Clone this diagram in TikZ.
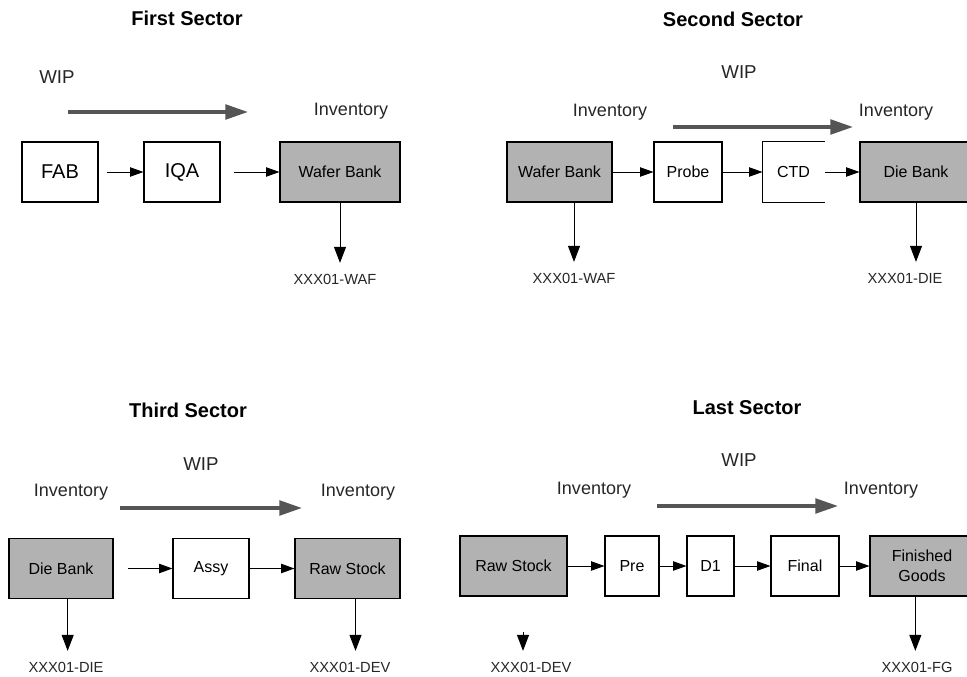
\documentclass[tikz,border=0pt]{standalone}
\usepackage{fontspec}
\setmainfont{Liberation Sans}
\usetikzlibrary{arrows.meta,positioning}
\definecolor{bankgray}{RGB}{178,178,178}
\definecolor{flowgray}{RGB}{85,85,85}

\begin{document}
\begin{tikzpicture}[
  x=0.75pt, y=-0.75pt,
  box/.style={draw, line width=0.8pt, minimum height=45pt, inner sep=0pt, align=center, font=\fontsize{12}{15}\selectfont},
  bank/.style={box, fill=bankgray},
  big/.style={font=\fontsize{15}{18}\selectfont},
  title/.style={font=\fontsize{15}{18}\selectfont\bfseries},
  lbl/.style={font=\fontsize{13.5}{16}\selectfont, text=black!85},
  wip/.style={font=\fontsize{14}{16}\selectfont, text=black!85},
  code/.style={font=\fontsize{11}{13}\selectfont, text=black!85, inner sep=1pt},
  flow/.style={color=flowgray, line width=2.5pt, -{Triangle[length=17pt,width=11pt]}},
  link/.style={line width=0.7pt, -{Triangle[length=10pt,width=7pt]}},
  drop/.style={line width=0.7pt, shorten >=7pt, -{Triangle[length=12pt,width=9pt]}},
]
\useasboundingbox (0,0) rectangle (967,677);

% first sector
\node[title] (t1) at (187,18) {First Sector};
\node[wip] (wip1) at (57,77) {WIP};
\node[lbl] (inv1) at (351,111) {Inventory};
\coordinate (f1a) at (68,112);
\coordinate (f1b) at (248,112);
\node[box, big, minimum width=57pt] (fab) at (60,172) {FAB};
\node[box, big, minimum width=57pt] (iqa) at (182,172) {IQA};
\node[bank, minimum width=90pt] (wb1) at (340,172) {Wafer Bank};
\node[code] (waf1) at (335,279) {XXX01-WAF};

\draw[flow] (f1a) -- (f1b);
\draw[link, shorten <=6pt] (fab) -- (iqa);
\draw[link, shorten <=10pt] (iqa) -- (wb1);
\draw[drop] (wb1.south) -- (wb1.south |- waf1.north);

% second sector
\node[title] (t2) at (733,19) {Second Sector};
\node[wip] (wip2) at (739,72) {WIP};
\node[lbl] (inv2a) at (610,112) {Inventory};
\node[lbl] (inv2b) at (896,112) {Inventory};
\coordinate (f2a) at (673,127);
\coordinate (f2b) at (853,127);
\node[bank, minimum width=78.75pt] (wb2) at (559.5,172) {Wafer Bank};
\node[box, minimum width=51pt] (probe) at (688,172) {Probe};
\node[box, draw=none, minimum width=45.75pt] (ctd) at (793.5,172) {CTD};
\draw[line width=0.8pt] (ctd.north east) -- (ctd.north west) -- (ctd.south west) -- (ctd.south east);
\node[bank, minimum width=84pt] (db2) at (916,172) {Die Bank};
\node[code] (waf2) at (574,278) {XXX01-WAF};
\node[code] (die2) at (905,278) {XXX01-DIE};

\draw[flow] (f2a) -- (f2b);
\draw[link] (wb2) -- (probe);
\draw[link] (probe) -- (ctd);
\draw[link] (ctd) -- (db2);
\draw[drop] (wb2.south -| waf2) -- (waf2.north);
\draw[drop] (db2.south) -- (db2.south |- die2.north);

% third sector
\node[title] (t3) at (188,410) {Third Sector};
\node[wip] (wip3) at (201,464) {WIP};
\node[lbl] (inv3a) at (71,492) {Inventory};
\node[lbl] (inv3b) at (358,492) {Inventory};
\coordinate (f3a) at (120,508);
\coordinate (f3b) at (302,508);
\node[bank, minimum width=78pt] (db3) at (61,568.5) {Die Bank};
\node[box, minimum width=57pt] (assy) at (211,568.5) {Assy};
\node[bank, minimum width=78.75pt] (rs3) at (347.5,568.5) {Raw Stock};
\node[code] (die3) at (66,667) {XXX01-DIE};
\node[code] (dev3) at (350,667) {XXX01-DEV};

\draw[flow] (f3a) -- (f3b);
\draw[link, shorten <=11pt] (db3) -- (assy);
\draw[link] (assy) -- (rs3);
\draw[drop] ([xshift=5pt]db3.south) -- ([xshift=5pt]db3.south |- die3.north);
\draw[drop] ([xshift=6pt]rs3.south) -- ([xshift=6pt]rs3.south |- dev3.north);

% last sector
\node[title] (t4) at (747,408) {Last Sector};
\node[wip] (wip4) at (739,460) {WIP};
\node[lbl] (inv4a) at (594,490) {Inventory};
\node[lbl] (inv4b) at (881,490) {Inventory};
\coordinate (f4a) at (657,506);
\coordinate (f4b) at (838,506);
\node[bank, minimum width=80.25pt] (rs4) at (513.5,566) {Raw Stock};
\node[box, minimum width=40.5pt] (pre) at (632,566) {Pre};
\node[box, minimum width=35.25pt] (d1) at (710.5,566) {D1};
\node[box, minimum width=51pt] (final) at (805,566) {Final};
\node[bank, minimum width=78pt] (fg) at (922,566) {Finished\\Goods};
\node[code] (dev4) at (531,667) {XXX01-DEV};
\node[code] (fg4) at (917,667) {XXX01-FG};
\coordinate (rs4tip) at (523,632);

\draw[flow] (f4a) -- (f4b);
\draw[link] (rs4) -- (pre);
\draw[link] (pre) -- (d1);
\draw[link] (d1) -- (final);
\draw[link] (final) -- (fg);
\draw[drop] (rs4tip) -- (rs4tip |- dev4.north);
\draw[drop] ([xshift=-5pt]fg.south) -- ([xshift=-5pt]fg.south |- fg4.north);
\end{tikzpicture}
\end{document}
